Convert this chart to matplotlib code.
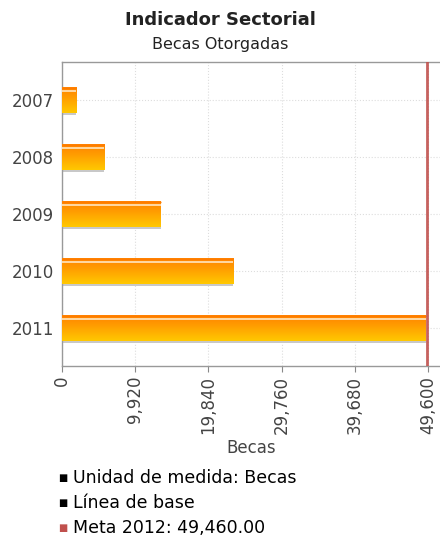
import numpy as np
import matplotlib.pyplot as plt
from matplotlib.colors import LinearSegmentedColormap

years = ['2007', '2008', '2009', '2010', '2011']
becas = [1900, 5700, 13400, 23200, 49300]
meta = 49460
xticks = [0, 9920, 19840, 29760, 39680, 49600]

fig = plt.figure(figsize=(4.4, 5.38), dpi=100)
ax = fig.add_axes([62 / 440, 172 / 538, 1 - 62 / 440, 304 / 538])

pos = np.arange(len(years))
h = 0.44

# degradado naranja -> amarillo
cmap = LinearSegmentedColormap.from_list('barra', ['#ff8400', '#ff9800', '#ffb000', '#ffc800'])
grad = np.linspace(0, 1, 50).reshape(-1, 1)

for i, v in enumerate(becas):
    # sombra gris
    ax.barh(pos[i] + 0.05, v, height=h, color='#c8c8c8', zorder=2)
    bar = ax.barh(pos[i], v, height=h, color='#ffa000', zorder=3)[0]
    im = ax.imshow(grad, aspect='auto', cmap=cmap, extent=[0, v, pos[i] + h / 2, pos[i] - h / 2],
                   zorder=4, interpolation='bilinear')
    im.set_clip_path(bar)
    # brillo superior
    ax.plot([0, v], [pos[i] - h / 2 + 0.06] * 2, color='#ffe6c0', lw=1.2, zorder=5,
            solid_capstyle='butt')
    ax.plot([0, v], [pos[i] - h / 2 + 0.015] * 2, color='#ff7a00', lw=1, zorder=5,
            solid_capstyle='butt')

ax.axvline(meta, color='#c0504d', lw=2, zorder=6, alpha=0.9)

ax.set_xlim(0, 49600 * 378 / 366)
ax.set_ylim(len(years) - 1 + 0.667, -0.667)
ax.set_yticks(pos)
ax.set_yticklabels(years, fontsize=12, color='#444444')
ax.set_xticks(xticks)
ax.set_xticklabels([f'{t:,}' for t in xticks], rotation=90, fontsize=12, color='#444444')
ax.tick_params(axis='y', length=0, pad=6)
ax.tick_params(axis='x', length=4, color='#888888', pad=3)
ax.grid(True, color='#dddddd', ls=':', lw=0.8, zorder=0)
ax.set_axisbelow(True)

for s in ['left', 'bottom', 'top']:
    ax.spines[s].set_color('#999999')
    ax.spines[s].set_linewidth(1)
ax.spines['right'].set_visible(False)

ax.set_xlabel('Becas', fontsize=12, color='#444444', labelpad=4)

fig.text(0.5, 1 - 20 / 538, 'Indicador Sectorial', ha='center', va='center',
         fontsize=13, fontweight='bold', color='#222222')
fig.text(0.5, 1 - 44 / 538, 'Becas Otorgadas', ha='center', va='center',
         fontsize=11.5, color='#222222')

legend_items = ['Unidad de medida: Becas', 'Línea de base', 'Meta 2012: 49,460.00']
legend_colors = ['#000000', '#000000', '#c0504d']
for k, (txt, c) in enumerate(zip(legend_items, legend_colors)):
    yy = 1 - (478 + 25 * k) / 538
    fig.text(58 / 440, yy, '■', color=c, fontsize=7, ha='left', va='center')
    fig.text(73 / 440, yy, txt, color='#000000', fontsize=12.5, ha='left', va='center')

fig.savefig('out.png', dpi=100)
